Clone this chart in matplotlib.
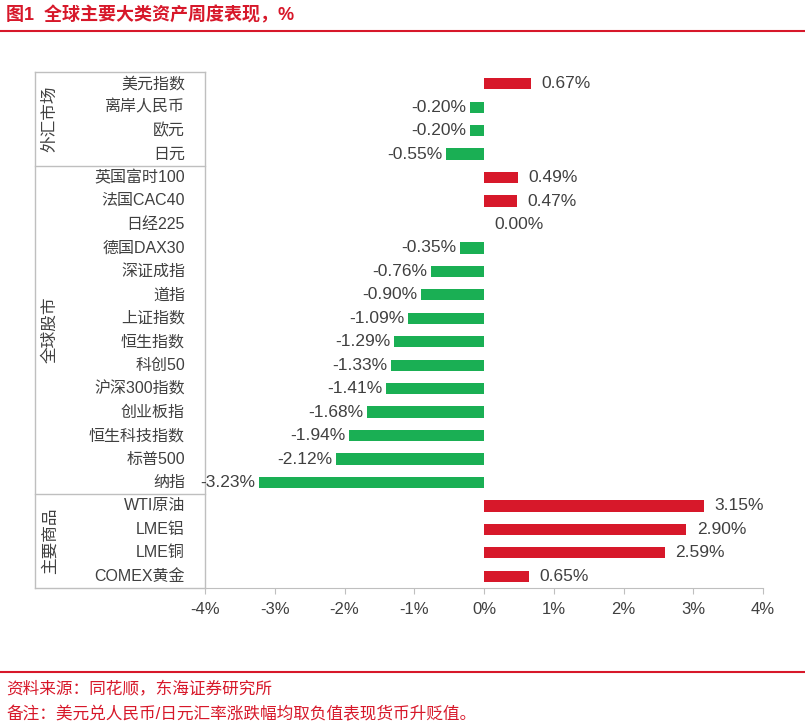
import matplotlib
matplotlib.use("Agg")
import matplotlib.pyplot as plt
from matplotlib.lines import Line2D

plt.rcParams['font.family'] = ['Liberation Sans', 'Noto Sans CJK SC', 'DejaVu Sans']

categories = ["美元指数", "离岸人民币", "欧元", "日元",
              "英国富时100", "法国CAC40", "日经225", "德国DAX30", "深证成指", "道指",
              "上证指数", "恒生指数", "科创50", "沪深300指数", "创业板指", "恒生科技指数",
              "标普500", "纳指",
              "WTI原油", "LME铝", "LME铜", "COMEX黄金"]
values = [0.67, -0.20, -0.20, -0.55,
          0.49, 0.47, 0.00, -0.35, -0.76, -0.90, -1.09, -1.29, -1.33, -1.41, -1.68, -1.94,
          -2.12, -3.23,
          3.15, 2.90, 2.59, 0.65]
groups = [("外汇市场", 0, 3), ("全球股市", 4, 17), ("主要商品", 18, 21)]
xticks = [-4, -3, -2, -1, 0, 1, 2, 3, 4]

RED = "#D7182A"
GREEN = "#1AAF54"
GRAY = "#BFBFBF"
TXT = "#404040"

W, H = 805, 728
fig = plt.figure(figsize=(W/100, H/100), dpi=100)
ax = fig.add_axes([205/W, 1-588/H, 558/W, (588-72)/H])

n = len(categories)
ys = list(range(n))
colors = [RED if v > 0 else GREEN for v in values]
ax.barh(ys, values, height=0.48, color=colors)
ax.set_ylim(n-0.5, -0.5)
ax.set_xlim(-4, 4)
ax.set_xticks(xticks)
ax.set_xticklabels([f"{t}%" for t in xticks], fontsize=12, color=TXT)
ax.set_yticks([])
for s in ["top", "right", "left"]:
    ax.spines[s].set_visible(False)
ax.spines["bottom"].set_color(GRAY)
ax.tick_params(axis='x', colors=GRAY, labelcolor=TXT, length=4, pad=6)

for y, v in zip(ys, values):
    if v >= 0:
        ax.text(v + 0.15, y, f"{v:.2f}%", va='center', ha='left', fontsize=12.5, color=TXT)
    else:
        ax.text(v - 0.05, y, f"{v:.2f}%", va='center', ha='right', fontsize=12.5, color=TXT)
    ax.text(-0.036, y, categories[y], transform=ax.get_yaxis_transform(),
            va='center', ha='right', fontsize=11.5, color=TXT)

xl = (35-205)/558
trans = ax.get_yaxis_transform()
bounds = [-0.5, 3.5, 17.5, 21.5]
for b in bounds:
    ax.add_line(Line2D([xl, 0], [b, b], transform=trans, color=GRAY, lw=1, clip_on=False))
ax.add_line(Line2D([xl, xl], [-0.5, 21.5], transform=trans, color=GRAY, lw=1, clip_on=False))
ax.add_line(Line2D([0, 0], [-0.5, 21.5], transform=trans, color=GRAY, lw=1, clip_on=False))
for name, a, b in groups:
    ax.text((50-205)/558, (a+b)/2, name, transform=trans, rotation=90,
            va='center', ha='center', fontsize=12, color=TXT)

fig.text(6/W, 1-15/H, "图1  全球主要大类资产周度表现，%", fontsize=13, fontweight='bold',
         color=RED, va='center', ha='left')
fig.add_artist(Line2D([0, 1], [1-31/H, 1-31/H], color=RED, lw=1.5))
fig.add_artist(Line2D([0, 1], [1-672/H, 1-672/H], color=RED, lw=1.5))
fig.text(6/W, 1-689/H, "资料来源：同花顺，东海证券研究所", fontsize=12, color=RED, va='center')
fig.text(6/W, 1-714/H, "备注：美元兑人民币/日元汇率涨跌幅均取负值表现货币升贬值。", fontsize=12, color=RED, va='center')

fig.savefig("out.png", dpi=100)
